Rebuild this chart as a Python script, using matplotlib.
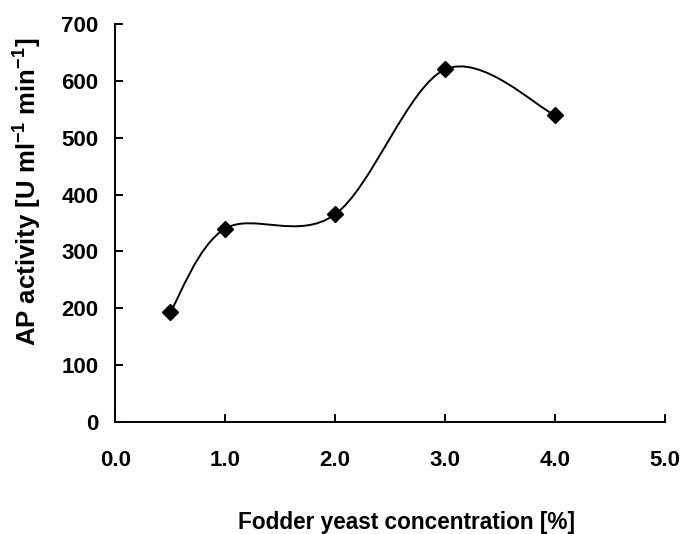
import numpy as np
import matplotlib
matplotlib.use('Agg')
import matplotlib.pyplot as plt
from matplotlib.path import Path
from matplotlib.patches import PathPatch

concentration = [0.5, 1.0, 2.0, 3.0, 4.0]
activity = [193, 340, 365, 620, 540]
x_ticklabels = ['0.0', '1.0', '2.0', '3.0', '4.0', '5.0']

plt.rcParams['font.family'] = ['Liberation Sans', 'DejaVu Sans']
plt.rcParams['font.weight'] = 'bold'
plt.rcParams['mathtext.default'] = 'regular'

fig = plt.figure(figsize=(6.86, 5.34), dpi=100)
ax = fig.add_axes([0.168, 0.21, 0.801, 0.745])

# Excel-style smoothed line: cubic Bezier segments with control points from neighbours
x = np.array(concentration, dtype=float)
y = np.array(activity, dtype=float)
verts = [(x[0], y[0])]
codes = [Path.MOVETO]
n = len(x)
for i in range(n - 1):
    x0, y0 = (x[i - 1], y[i - 1]) if i > 0 else (x[i], y[i])
    x3, y3 = (x[i + 2], y[i + 2]) if i + 2 < n else (x[i + 1], y[i + 1])
    c1 = (x[i] + (x[i + 1] - x0) / 6, y[i] + (y[i + 1] - y0) / 6)
    c2 = (x[i + 1] - (x3 - x[i]) / 6, y[i + 1] - (y3 - y[i]) / 6)
    verts += [c1, c2, (x[i + 1], y[i + 1])]
    codes += [Path.CURVE4] * 3
ax.add_patch(PathPatch(Path(verts, codes), fill=False, lw=1.4, color='black'))
ax.plot(concentration, activity, linestyle='none', marker='D', markersize=8,
        color='black', clip_on=False)

ax.set_xlim(0, 5)
ax.set_ylim(0, 700)
ax.set_xticks(np.arange(0, 5.01, 1.0))
ax.set_xticklabels(x_ticklabels)
ax.set_yticks(range(0, 701, 100))
ax.spines['top'].set_visible(False)
ax.spines['right'].set_visible(False)
ax.spines['left'].set_linewidth(1.4)
ax.spines['bottom'].set_linewidth(1.4)
ax.tick_params(direction='in', length=6, width=1.4, labelsize=16, pad=12)
ax.tick_params(axis='x', pad=20)

fig.text(407 / 686, 1 - 522 / 534, 'Fodder yeast concentration [%]', fontsize=16.3,
         fontweight='bold', ha='center', va='center')
fig.text(28 / 686, 1 - 192 / 534, 'AP activity [U ml$^{-1}$ min$^{-1}$]', fontsize=18.5,
         fontweight='bold', ha='center', va='center', rotation=90)

plt.savefig('out.png', dpi=100)
